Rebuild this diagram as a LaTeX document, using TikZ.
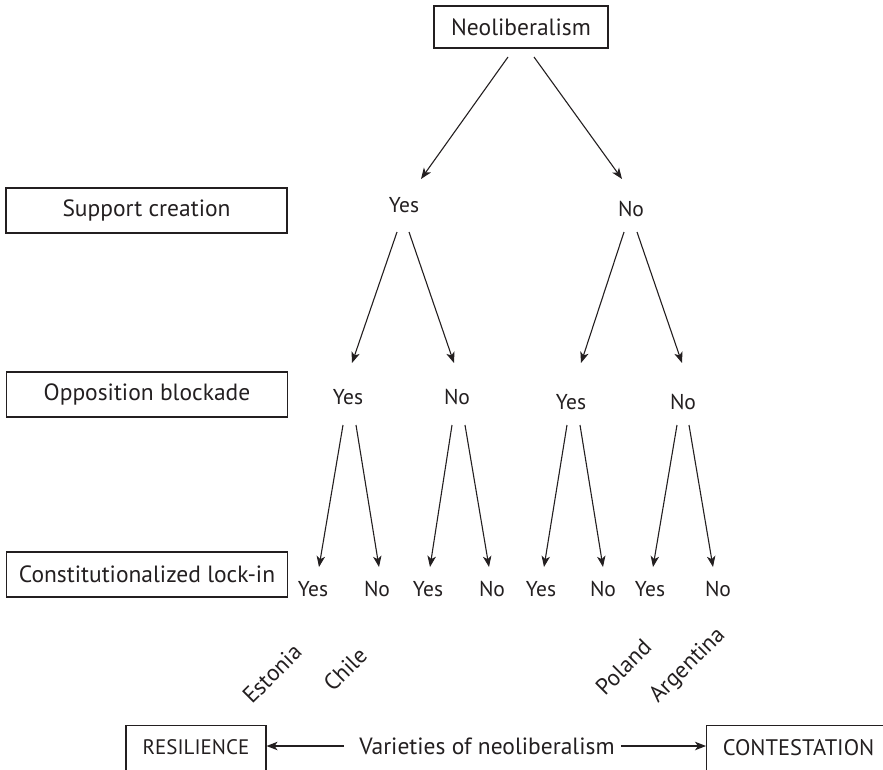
\documentclass[tikz,border=0pt]{standalone}
\usepackage{fontspec}
\setmainfont{PT Sans}
\usetikzlibrary{arrows.meta,calc}
\definecolor{ink}{HTML}{231F20}
\begin{document}
\begin{tikzpicture}[x=1pt,y=-1pt,
  every node/.style={font=\fontsize{23.5}{28}\selectfont, text=ink, inner sep=0pt},
  lab/.style={font=\fontsize{21.5}{26}\selectfont},
  box/.style={draw=ink, line width=1.1pt, minimum height=45pt, minimum width=281pt},
  arr/.style={draw=ink, line width=1.1pt, -{Stealth[length=11pt,width=8.5pt,inset=3pt]}},
  country/.style={rotate=45, anchor=base west, font=\fontsize{23}{28}\selectfont},
]
\useasboundingbox (0,0) rectangle (883,769);
\clip (0,0) rectangle (883,769);

% row boxes
\node[box, minimum width=174pt, minimum height=42pt] (neo) at (521,27) {Neoliberalism};
\node[box] (sc) at (146.5,210.5) {Support creation};
\node[box] (ob) at (147,394.5) {Opposition blockade};
\node[box] (cl) at (147,574.5) {Constitutionalized lock-in};

% level 1
\node[lab] (y1) at (404,205) {Yes};
\node[lab] (n1) at (631,209) {No};
% level 2
\node[lab] (y2a) at (348,397) {Yes};
\node[lab] (n2a) at (457,397) {No};
\node[lab] (y2b) at (571,402) {Yes};
\node[lab] (n2b) at (683,402) {No};
% level 3
\node[lab] (y3a) at (313,589) {Yes};
\node[lab] (n3a) at (377,589) {No};
\node[lab] (y3b) at (428,589) {Yes};
\node[lab] (n3b) at (492,589) {No};
\node[lab] (y3c) at (541,589) {Yes};
\node[lab] (n3c) at (603,589) {No};
\node[lab] (y3d) at (650,589) {Yes};
\node[lab] (n3d) at (718,589) {No};

% arrows level 0 -> 1
\draw[arr] ($(neo)+(-13,30)$) -- ($(y1)+(17,-26)$);
\draw[arr] ($(neo)+(13,30)$) -- ($(n1)+(-9,-30)$);
% level 1 -> 2
\draw[arr] ($(y1)+(-7,27)$) -- ($(y2a)+(4,-34)$);
\draw[arr] ($(y1)+(5,27)$) -- ($(n2a)+(-3,-34)$);
\draw[arr] ($(n1)+(-7,23)$) -- ($(y2b)+(10,-39)$);
\draw[arr] ($(n1)+(6,23)$) -- ($(n2b)+(-1,-39)$);
% level 2 -> 3
\draw[arr] ($(y2a)+(-5,28)$) -- ($(y3a)+(6,-22)$);
\draw[arr] ($(y2a)+(8,28)$) -- ($(n3a)+(2,-22)$);
\draw[arr] ($(n2a)+(-5,28)$) -- ($(y3b)+(2,-22)$);
\draw[arr] ($(n2a)+(8,28)$) -- ($(n3b)+(-3,-22)$);
\draw[arr] ($(y2b)+(-4,23)$) -- ($(y3c)+(3,-22)$);
\draw[arr] ($(y2b)+(9,23)$) -- ($(n3c)+(0,-22)$);
\draw[arr] ($(n2b)+(-6,23)$) -- ($(y3d)+(3,-22)$);
\draw[arr] ($(n2b)+(6,23)$) -- ($(n3d)+(-5,-22)$);

% countries
\node[country] (est) at (252,705) {Estonia};
\node[country] (chi) at (333,693) {Chile};
\node[country] (pol) at (605,697) {Poland};
\node[country] (arg) at (658,704) {Argentina};

% bottom
\node[draw=ink, line width=1.1pt, minimum width=140pt, minimum height=48pt, text depth=5pt, anchor=north, font=\fontsize{21}{25}\selectfont] (res) at (196,725) {RESILIENCE};
\node[draw=ink, line width=1.1pt, minimum width=184pt, minimum height=48pt, text depth=5pt, anchor=north west, font=\fontsize{22.5}{27}\selectfont] (con) at (706,725) {CONTESTATION};
\node (var) at (487,746) {Varieties of neoliberalism};
\draw[arr] ($(var.west)+(-15,0)$) -- (res.east |- var);
\draw[arr] ($(var.east)+(6,0)$) -- (con.west |- var);
\end{tikzpicture}
\end{document}
